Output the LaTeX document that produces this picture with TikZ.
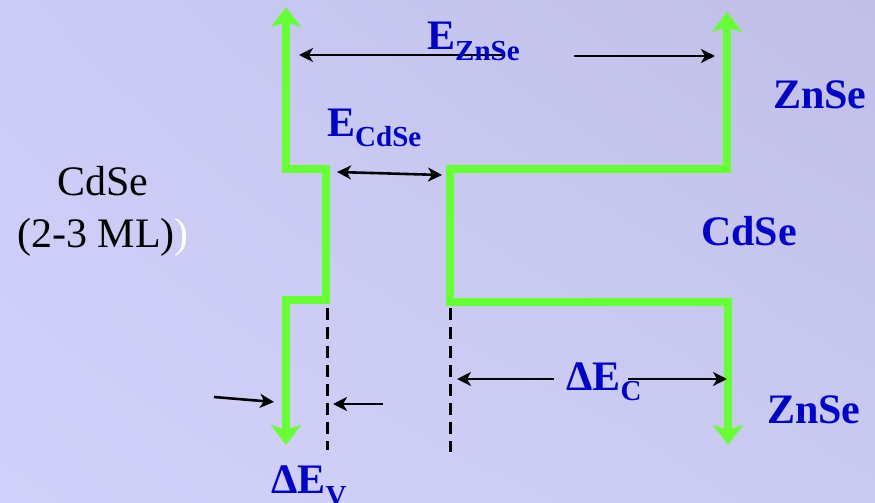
\documentclass[tikz,border=0pt]{standalone}
\usepackage{fontspec}
\setmainfont{Liberation Serif}
\usetikzlibrary{arrows.meta,shadings}

\definecolor{bandgreen}{HTML}{66FF33}
\definecolor{lblblue}{HTML}{0000CC}
\definecolor{bgul}{HTML}{CBCBF6}
\definecolor{bgur}{HTML}{C1BFE7}
\definecolor{bgll}{HTML}{D1D1FB}
\definecolor{bglr}{HTML}{CACAF1}

\newcommand{\bigtxt}{\fontsize{42}{48}\selectfont}
\newcommand{\subtxt}{\fontsize{29}{32}\selectfont}

\begin{document}
\begin{tikzpicture}[
  x=1pt, y=-1pt,
  band/.style={draw=bandgreen, line width=8pt, line join=miter,
               {Stealth[length=20pt, width=30pt, inset=5pt]}-{Stealth[length=20pt, width=30pt, inset=5pt]}},
  dim/.style={draw=black, line width=2.6pt, -{Stealth[length=14pt, width=14pt, inset=4pt]}},
  dimboth/.style={draw=black, line width=2.6pt,
                  {Stealth[length=14pt, width=14pt, inset=4pt]}-{Stealth[length=14pt, width=14pt, inset=4pt]}},
  edge/.style={draw=black, line width=3pt, dash pattern=on 12pt off 7pt},
  lbl/.style={text=lblblue, font=\bigtxt\bfseries, inner sep=0pt, anchor=base west},
  plain/.style={text=black, font=\bigtxt, inner sep=0pt}]

\useasboundingbox (0,0) rectangle (875,503);
\shade[upper left=bgul, upper right=bgur, lower left=bgll, lower right=bglr]
  (0,0) rectangle (875,503);

% ---- band edges ----
\coordinate (vtop) at (286,7);
\coordinate (vbot) at (286,445);
\coordinate (ctop) at (727,12);
\coordinate (cbot) at (728,445);

\draw[band] (vtop) -- (286,169) -- (326,169) -- (326,300) -- (286,300) -- (vbot);
\draw[band] (ctop) -- (727,169) -- (450,169) -- (450,302) -- (728,302) -- (cbot);

\coordinate (wellL) at (327,308);
\coordinate (wellR) at (450,308);
\draw[edge] (wellL) -- (327,450);
\draw[edge] (wellR) -- (450,452);

% ---- gaps and offsets ----
\coordinate (gzA) at (503,55);
\coordinate (gzB) at (299,55);
\coordinate (gzC) at (574,56);
\coordinate (gzD) at (715,56);
\draw[dim] (gzA) -- (gzB);
\draw[dim] (gzC) -- (gzD);

\coordinate (gcA) at (337,172);
\coordinate (gcB) at (442,175);
\draw[dimboth] (gcA) -- (gcB);

\coordinate (evA) at (214,397);
\coordinate (evB) at (274,402);
\coordinate (evC) at (383,404);
\coordinate (evD) at (333,404);
\draw[dim] (evA) -- (evB);
\draw[dim] (evC) -- (evD);

\coordinate (ecA) at (554,379);
\coordinate (ecB) at (457,379);
\coordinate (ecC) at (628,379);
\coordinate (ecD) at (727,379);
\draw[dim] (ecA) -- (ecB);
\draw[dim] (ecC) -- (ecD);

% ---- labels ----
\node[lbl] (ezn) at (427,49) {E\raisebox{-12pt}{\subtxt ZnSe}};
\node[lbl] (ecd) at (327,136) {E\raisebox{-10pt}{\subtxt CdSe}};
\node[lbl] (dec) at (566,390) {ΔE\raisebox{-10pt}{\subtxt C}};
\node[lbl] (dev) at (271,493) {ΔE\raisebox{-12pt}{\subtxt V}};
\node[lbl] (zntop) at (773,108) {ZnSe};
\node[lbl] (cdmid) at (701,245) {CdSe};
\node[lbl] (znbot) at (767,423) {ZnSe};

\node[plain, anchor=base] (cdname) at (103,195) {CdSe};
\node[plain, anchor=base west] (cdml) at (17,247) {(2-3 ML)\textcolor{white}{)}};
\end{tikzpicture}
\end{document}
